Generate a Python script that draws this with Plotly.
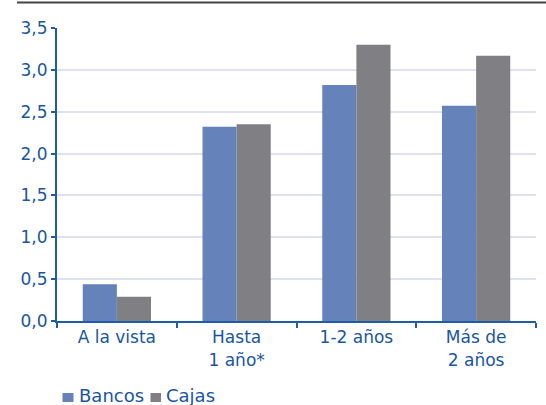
import plotly.graph_objects as go

categories = ["A la vista", "Hasta<br>1 año*", "1-2 años", "Más de<br>2 años"]
series_names = ["Bancos", "Cajas"]
bancos = [0.44, 2.32, 2.82, 2.57]
cajas = [0.29, 2.35, 3.30, 3.17]
y_ticks = [0, 0.5, 1.0, 1.5, 2.0, 2.5, 3.0, 3.5]
y_tick_labels = ["0,0", "0,5", "1,0", "1,5", "2,0", "2,5", "3,0", "3,5"]

colors = ["#6682bb", "#808084"]
text_color = "#1a56a0"
axis_color = "#1f5ca8"
font_family = "DejaVu Sans"

W, H = 546, 405
ml, mr, mt, mb = 57, 10, 28, 84
pw, ph = W - ml - mr, H - mt - mb


def px_x(px):
    return (px - ml) / pw


def px_y(py):
    return (H - mb - py) / ph


fig = go.Figure()
for name, vals, col in zip(series_names, [bancos, cajas], colors):
    fig.add_trace(go.Bar(name=name, x=categories, y=vals, marker_color=col,
                         marker_line_width=0, showlegend=False))

# manual legend
legend_sq = [(62.5, 73.5), (150.5, 161)]
legend_tx = [77, 164]
shapes = [dict(type="line", xref="paper", yref="paper",
               x0=px_x(17), x1=px_x(W), y0=px_y(2.5), y1=px_y(2.5),
               line=dict(color="#444444", width=2))]
annotations = []
for (sx0, sx1), tx, name, col in zip(legend_sq, legend_tx, series_names, colors):
    shapes.append(dict(type="rect", xref="paper", yref="paper",
                       x0=px_x(sx0), x1=px_x(sx1), y0=px_y(402), y1=px_y(393),
                       fillcolor=col, line=dict(width=0)))
    annotations.append(dict(xref="paper", yref="paper", x=px_x(tx), y=px_y(395),
                            xanchor="left", yanchor="middle", showarrow=False,
                            text=name, font=dict(size=18, color=text_color, family=font_family)))

fig.update_layout(
    width=W, height=H,
    margin=dict(l=ml, r=mr, t=mt, b=mb, autoexpand=False),
    paper_bgcolor="white", plot_bgcolor="white",
    barmode="group", bargap=0.43, bargroupgap=0,
    font=dict(family=font_family, size=17, color=text_color),
    showlegend=False,
    xaxis=dict(showline=True, linecolor=axis_color, linewidth=2, automargin=False,
               ticks="outside", tickson="boundaries", ticklen=5, tickcolor=axis_color, tickwidth=2,
               showgrid=False, tickfont=dict(size=17, color=text_color)),
    yaxis=dict(range=[0, 3.5], tickvals=y_ticks, ticktext=y_tick_labels, automargin=False,
               showline=True, linecolor=axis_color, linewidth=2,
               ticks="outside", ticklen=4, tickcolor=axis_color, tickwidth=2,
               showgrid=True, gridcolor="#dde1f0", gridwidth=2, zeroline=False,
               tickfont=dict(size=17, color=text_color)),
    shapes=shapes,
    annotations=annotations,
)

fig.write_html("out.html", config={"displayModeBar": False},
               post_script="document.body.style.margin='0';document.body.style.padding='0';")
